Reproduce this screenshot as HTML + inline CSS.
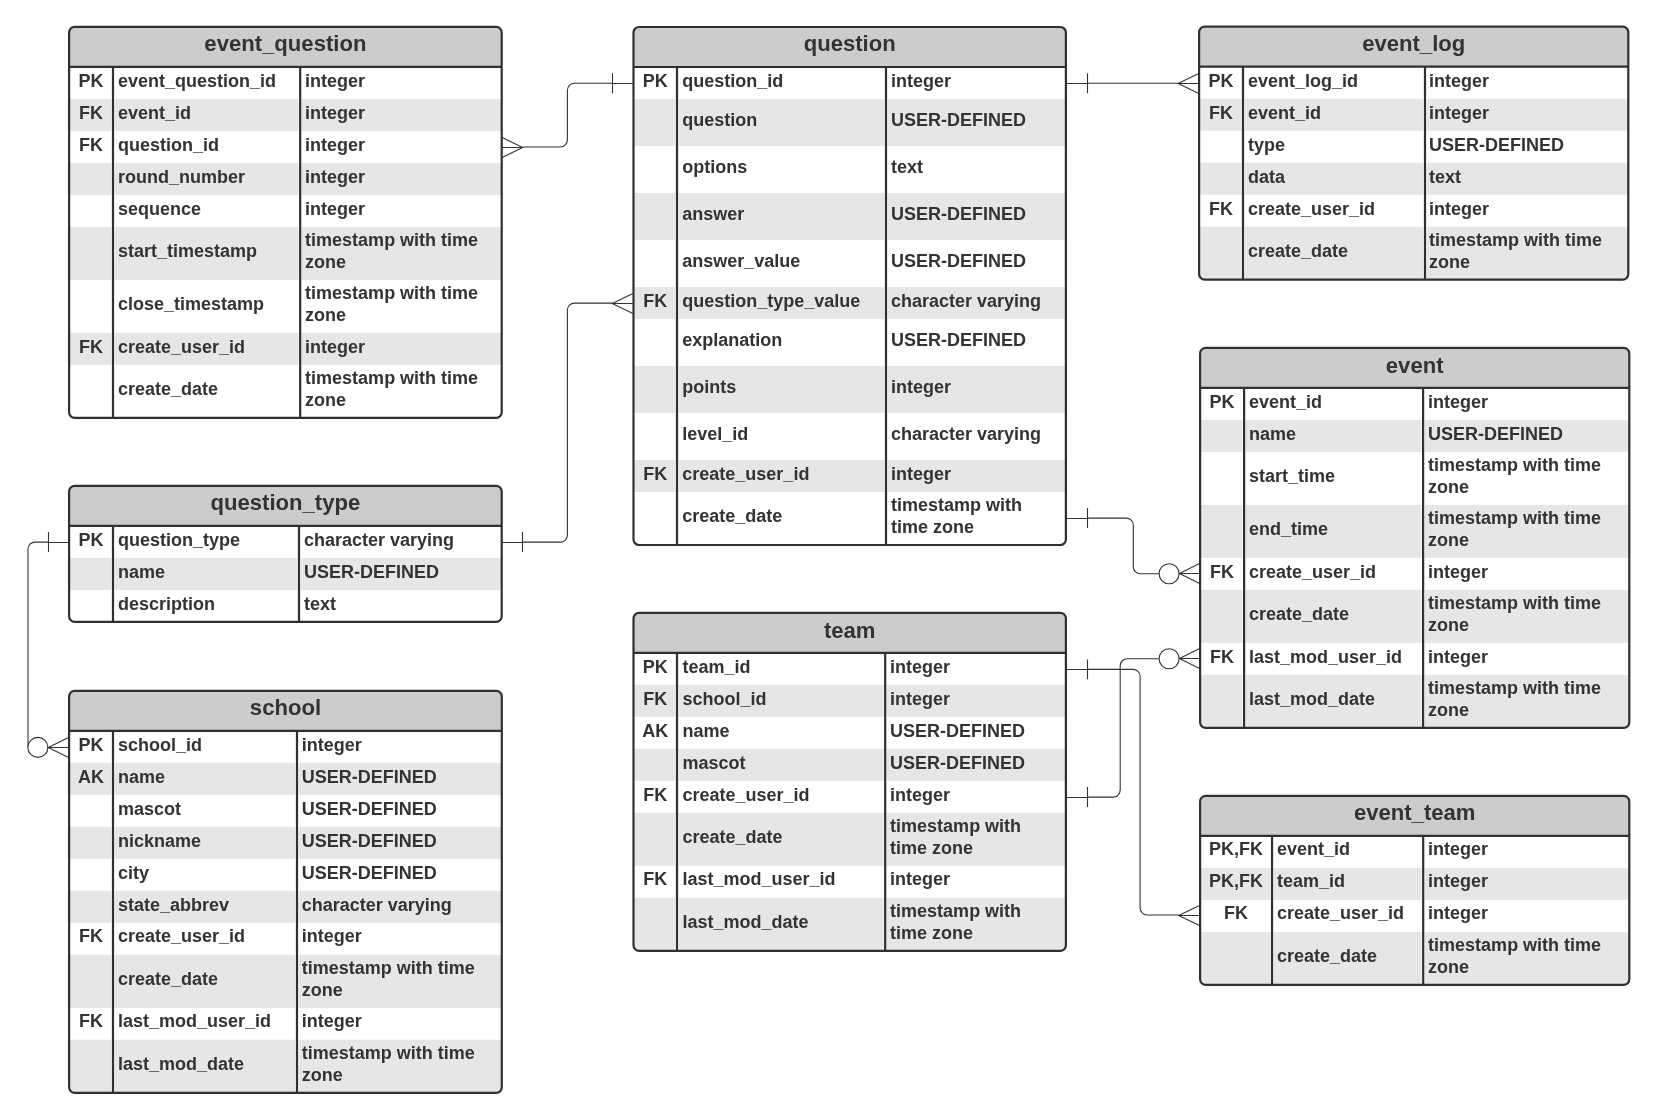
<!DOCTYPE html>
<html><head><meta charset="utf-8"><title>ERD</title>
<style>
html,body{margin:0;padding:0;background:#fff;}
body{width:1659px;height:1120px;overflow:hidden;font-family:"Liberation Sans",sans-serif;}
svg{display:block;will-change:transform;filter:grayscale(1)}
text{font-family:"Liberation Sans",sans-serif;font-weight:bold;white-space:pre}
text.t{font-size:22.1px}
</style></head><body>
<svg width="1659" height="1120" viewBox="0 0 1659 1120">
<rect width="1659" height="1120" fill="#fff"/>
<g fill="none" stroke="#333333" stroke-width="1.1">
<path d="M522.7 147L560.4 147A7 7 0 0 0 567.4 140L567.4 90.3A7 7 0 0 1 574.4 83.3L612.5 83.3"/>
<path d="M501.7 137.2L522.7 147.5L501.7 157.8M522.7 147.5H501.7"/>
<path d="M633.5 83.5H612.5M612.5 73.3V93.15"/>
<path d="M522.5 542.1L560.4 542.1A7 7 0 0 0 567.4 535.1L567.4 310.1A7 7 0 0 1 574.4 303.1L612.2 303.1"/>
<path d="M501.7 542.5H522.5M522.5 532.1V551.95"/>
<path d="M633.5 293.2L612.2 303.5L633.5 313.8M612.2 303.5H633.5"/>
<path d="M1087.5 83.3L1178.1 83.3"/>
<path d="M1065.9 83.5H1087.5M1087.5 73.3V93.15"/>
<path d="M1199.3 73.2L1178.1 83.5L1199.3 93.8M1178.1 83.5H1199.3"/>
<path d="M1087.5 518.1L1126.3 518.1A7 7 0 0 1 1133.3 525.1L1133.3 566.7A7 7 0 0 0 1140.3 573.7L1159.5 573.7"/>
<path d="M1065.9 518.5H1087.5M1087.5 508.1V527.95"/>
<circle cx="1169.1" cy="573.7" r="10" fill="#fff"/>
<path d="M1200.1 563.2L1179.4 573.5L1200.1 583.8M1179.4 573.5H1200.1"/>
<path d="M1087.5 797.1L1113.2 797.1A7 7 0 0 0 1120.2 790.1L1120.2 665.7A7 7 0 0 1 1127.2 658.7L1159.5 658.7"/>
<path d="M1065.9 797.5H1087.5M1087.5 787.1V806.95"/>
<circle cx="1169.1" cy="658.7" r="10" fill="#fff"/>
<path d="M1200.1 648.2L1179.4 658.5L1200.1 668.8M1179.4 658.5H1200.1"/>
<path d="M1087.5 669.4L1133.1 669.4A7 7 0 0 1 1140.1 676.4L1140.1 908A7 7 0 0 0 1147.1 915L1178.6 915"/>
<path d="M1065.9 669.5H1087.5M1087.5 659.4V679.25"/>
<path d="M1200.1 905.2L1178.6 915.5L1200.1 925.8M1178.6 915.5H1200.1"/>
<path d="M48.5 542.1L35 542.1A7 7 0 0 0 28 549.1L28 747.35"/>
<path d="M69.1 542.5H48.5M48.5 532.1V551.95"/>
<circle cx="37.9" cy="747.4" r="10" fill="#fff"/>
<path d="M69.1 737.2L48.2 747.5L69.1 757.8M48.2 747.5H69.1"/>
</g>
<g font-family="'Liberation Sans', sans-serif" font-weight="bold" font-size="18px" fill="#333333">
<path d="M74.7 26.85H496.1A5.6 5.6 0 0 1 501.7 32.45V412.25A5.6 5.6 0 0 1 496.1 417.85H74.7A5.6 5.6 0 0 1 69.1 412.25V32.45A5.6 5.6 0 0 1 74.7 26.85Z" fill="#fff"/>
<path d="M69.1 66.85V32.45A5.6 5.6 0 0 1 74.7 26.85H496.1A5.6 5.6 0 0 1 501.7 32.45V66.85Z" fill="#cccccc"/>
<rect x="69.1" y="98.85" width="432.6" height="32" fill="#e6e6e6"/>
<rect x="69.1" y="162.85" width="432.6" height="32" fill="#e6e6e6"/>
<rect x="69.1" y="226.85" width="432.6" height="53" fill="#e6e6e6"/>
<rect x="69.1" y="332.85" width="432.6" height="32" fill="#e6e6e6"/>
<path d="M113 66.85V417.85M300.2 66.85V417.85" stroke="#fff" stroke-width="3.1" fill="none"/>
<path d="M69.1 66.85H501.7M113 66.85V417.85M300.2 66.85V417.85" stroke="#303030" stroke-width="2.2" fill="none"/>
<path d="M74.7 26.85H496.1A5.6 5.6 0 0 1 501.7 32.45V412.25A5.6 5.6 0 0 1 496.1 417.85H74.7A5.6 5.6 0 0 1 69.1 412.25V32.45A5.6 5.6 0 0 1 74.7 26.85Z" fill="none" stroke="#303030" stroke-width="2.2"/>
<text class="t" x="285.4" y="50.85" text-anchor="middle">event_question</text>
<text x="91.05" y="86.8" text-anchor="middle">PK</text>
<text x="117.9" y="86.8">event_question_id</text>
<text x="305.1" y="86.8">integer</text>
<text x="91.05" y="118.8" text-anchor="middle">FK</text>
<text x="117.9" y="118.8">event_id</text>
<text x="305.1" y="118.8">integer</text>
<text x="91.05" y="150.8" text-anchor="middle">FK</text>
<text x="117.9" y="150.8">question_id</text>
<text x="305.1" y="150.8">integer</text>
<text x="117.9" y="182.8">round_number</text>
<text x="305.1" y="182.8">integer</text>
<text x="117.9" y="214.8">sequence</text>
<text x="305.1" y="214.8">integer</text>
<text x="117.9" y="257.1">start_timestamp</text>
<text x="305.1" y="246.3">timestamp with time</text>
<text x="305.1" y="268">zone</text>
<text x="117.9" y="310.1">close_timestamp</text>
<text x="305.1" y="299.3">timestamp with time</text>
<text x="305.1" y="321">zone</text>
<text x="91.05" y="352.8" text-anchor="middle">FK</text>
<text x="117.9" y="352.8">create_user_id</text>
<text x="305.1" y="352.8">integer</text>
<text x="117.9" y="395.1">create_date</text>
<text x="305.1" y="384.3">timestamp with time</text>
<text x="305.1" y="406">zone</text>
<path d="M639.1 27H1060.3A5.6 5.6 0 0 1 1065.9 32.6V539.4A5.6 5.6 0 0 1 1060.3 545H639.1A5.6 5.6 0 0 1 633.5 539.4V32.6A5.6 5.6 0 0 1 639.1 27Z" fill="#fff"/>
<path d="M633.5 67V32.6A5.6 5.6 0 0 1 639.1 27H1060.3A5.6 5.6 0 0 1 1065.9 32.6V67Z" fill="#cccccc"/>
<rect x="633.5" y="99" width="432.4" height="47" fill="#e6e6e6"/>
<rect x="633.5" y="193" width="432.4" height="47" fill="#e6e6e6"/>
<rect x="633.5" y="287" width="432.4" height="32" fill="#e6e6e6"/>
<rect x="633.5" y="366" width="432.4" height="47" fill="#e6e6e6"/>
<rect x="633.5" y="460" width="432.4" height="32" fill="#e6e6e6"/>
<path d="M677 67V545M886 67V545" stroke="#fff" stroke-width="3.1" fill="none"/>
<path d="M633.5 67H1065.9M677 67V545M886 67V545" stroke="#303030" stroke-width="2.2" fill="none"/>
<path d="M639.1 27H1060.3A5.6 5.6 0 0 1 1065.9 32.6V539.4A5.6 5.6 0 0 1 1060.3 545H639.1A5.6 5.6 0 0 1 633.5 539.4V32.6A5.6 5.6 0 0 1 639.1 27Z" fill="none" stroke="#303030" stroke-width="2.2"/>
<text class="t" x="849.7" y="51" text-anchor="middle">question</text>
<text x="655.25" y="86.95" text-anchor="middle">PK</text>
<text x="682.3" y="86.95">question_id</text>
<text x="890.9" y="86.95">integer</text>
<text x="682.3" y="126.05">question</text>
<text x="890.9" y="126.05">USER-DEFINED</text>
<text x="682.3" y="173.05">options</text>
<text x="890.9" y="173.05">text</text>
<text x="682.3" y="220.05">answer</text>
<text x="890.9" y="220.05">USER-DEFINED</text>
<text x="682.3" y="267.05">answer_value</text>
<text x="890.9" y="267.05">USER-DEFINED</text>
<text x="655.25" y="306.95" text-anchor="middle">FK</text>
<text x="682.3" y="306.95">question_type_value</text>
<text x="890.9" y="306.95">character varying</text>
<text x="682.3" y="346.05">explanation</text>
<text x="890.9" y="346.05">USER-DEFINED</text>
<text x="682.3" y="393.05">points</text>
<text x="890.9" y="393.05">integer</text>
<text x="682.3" y="440.05">level_id</text>
<text x="890.9" y="440.05">character varying</text>
<text x="655.25" y="479.95" text-anchor="middle">FK</text>
<text x="682.3" y="479.95">create_user_id</text>
<text x="890.9" y="479.95">integer</text>
<text x="682.3" y="522.25">create_date</text>
<text x="890.9" y="511.45">timestamp with</text>
<text x="890.9" y="533.15">time zone</text>
<path d="M1204.7 26.7H1622.7A5.6 5.6 0 0 1 1628.3 32.3V274.1A5.6 5.6 0 0 1 1622.7 279.7H1204.7A5.6 5.6 0 0 1 1199.1 274.1V32.3A5.6 5.6 0 0 1 1204.7 26.7Z" fill="#fff"/>
<path d="M1199.1 66.7V32.3A5.6 5.6 0 0 1 1204.7 26.7H1622.7A5.6 5.6 0 0 1 1628.3 32.3V66.7Z" fill="#cccccc"/>
<rect x="1199.1" y="98.7" width="429.2" height="32" fill="#e6e6e6"/>
<rect x="1199.1" y="162.7" width="429.2" height="32" fill="#e6e6e6"/>
<path d="M1199.1 226.7H1628.3V274.1A5.6 5.6 0 0 1 1622.7 279.7H1204.7A5.6 5.6 0 0 1 1199.1 274.1Z" fill="#e6e6e6"/>
<path d="M1243 66.7V279.7M1425 66.7V279.7" stroke="#fff" stroke-width="3.1" fill="none"/>
<path d="M1199.1 66.7H1628.3M1243 66.7V279.7M1425 66.7V279.7" stroke="#303030" stroke-width="2.2" fill="none"/>
<path d="M1204.7 26.7H1622.7A5.6 5.6 0 0 1 1628.3 32.3V274.1A5.6 5.6 0 0 1 1622.7 279.7H1204.7A5.6 5.6 0 0 1 1199.1 274.1V32.3A5.6 5.6 0 0 1 1204.7 26.7Z" fill="none" stroke="#303030" stroke-width="2.2"/>
<text class="t" x="1413.7" y="50.7" text-anchor="middle">event_log</text>
<text x="1221.05" y="86.65" text-anchor="middle">PK</text>
<text x="1247.9" y="86.65">event_log_id</text>
<text x="1429" y="86.65">integer</text>
<text x="1221.05" y="118.65" text-anchor="middle">FK</text>
<text x="1247.9" y="118.65">event_id</text>
<text x="1429" y="118.65">integer</text>
<text x="1247.9" y="150.65">type</text>
<text x="1429" y="150.65">USER-DEFINED</text>
<text x="1247.9" y="182.65">data</text>
<text x="1429" y="182.65">text</text>
<text x="1221.05" y="214.65" text-anchor="middle">FK</text>
<text x="1247.9" y="214.65">create_user_id</text>
<text x="1429" y="214.65">integer</text>
<text x="1247.9" y="256.95">create_date</text>
<text x="1429" y="246.15">timestamp with time</text>
<text x="1429" y="267.85">zone</text>
<path d="M1205.7 347.85H1623.7A5.6 5.6 0 0 1 1629.3 353.45V722.25A5.6 5.6 0 0 1 1623.7 727.85H1205.7A5.6 5.6 0 0 1 1200.1 722.25V353.45A5.6 5.6 0 0 1 1205.7 347.85Z" fill="#fff"/>
<path d="M1200.1 387.85V353.45A5.6 5.6 0 0 1 1205.7 347.85H1623.7A5.6 5.6 0 0 1 1629.3 353.45V387.85Z" fill="#cccccc"/>
<rect x="1200.1" y="419.85" width="429.2" height="32" fill="#e6e6e6"/>
<rect x="1200.1" y="504.85" width="429.2" height="53" fill="#e6e6e6"/>
<rect x="1200.1" y="589.85" width="429.2" height="53" fill="#e6e6e6"/>
<path d="M1200.1 674.85H1629.3V722.25A5.6 5.6 0 0 1 1623.7 727.85H1205.7A5.6 5.6 0 0 1 1200.1 722.25Z" fill="#e6e6e6"/>
<path d="M1244.1 387.85V727.85M1423.1 387.85V727.85" stroke="#fff" stroke-width="3.1" fill="none"/>
<path d="M1200.1 387.85H1629.3M1244.1 387.85V727.85M1423.1 387.85V727.85" stroke="#303030" stroke-width="2.2" fill="none"/>
<path d="M1205.7 347.85H1623.7A5.6 5.6 0 0 1 1629.3 353.45V722.25A5.6 5.6 0 0 1 1623.7 727.85H1205.7A5.6 5.6 0 0 1 1200.1 722.25V353.45A5.6 5.6 0 0 1 1205.7 347.85Z" fill="none" stroke="#303030" stroke-width="2.2"/>
<text class="t" x="1414.7" y="372.65" text-anchor="middle">event</text>
<text x="1222.1" y="407.8" text-anchor="middle">PK</text>
<text x="1249" y="407.8">event_id</text>
<text x="1428" y="407.8">integer</text>
<text x="1249" y="439.8">name</text>
<text x="1428" y="439.8">USER-DEFINED</text>
<text x="1249" y="482.1">start_time</text>
<text x="1428" y="471.3">timestamp with time</text>
<text x="1428" y="493">zone</text>
<text x="1249" y="535.1">end_time</text>
<text x="1428" y="524.3">timestamp with time</text>
<text x="1428" y="546">zone</text>
<text x="1222.1" y="577.8" text-anchor="middle">FK</text>
<text x="1249" y="577.8">create_user_id</text>
<text x="1428" y="577.8">integer</text>
<text x="1249" y="620.1">create_date</text>
<text x="1428" y="609.3">timestamp with time</text>
<text x="1428" y="631">zone</text>
<text x="1222.1" y="662.8" text-anchor="middle">FK</text>
<text x="1249" y="662.8">last_mod_user_id</text>
<text x="1428" y="662.8">integer</text>
<text x="1249" y="705.1">last_mod_date</text>
<text x="1428" y="694.3">timestamp with time</text>
<text x="1428" y="716">zone</text>
<path d="M74.7 485.93H496.1A5.6 5.6 0 0 1 501.7 491.53V616.33A5.6 5.6 0 0 1 496.1 621.93H74.7A5.6 5.6 0 0 1 69.1 616.33V491.53A5.6 5.6 0 0 1 74.7 485.93Z" fill="#fff"/>
<path d="M69.1 525.93V491.53A5.6 5.6 0 0 1 74.7 485.93H496.1A5.6 5.6 0 0 1 501.7 491.53V525.93Z" fill="#cccccc"/>
<rect x="69.1" y="557.93" width="432.6" height="32" fill="#e6e6e6"/>
<path d="M113 525.93V621.93M299 525.93V621.93" stroke="#fff" stroke-width="3.1" fill="none"/>
<path d="M69.1 525.93H501.7M113 525.93V621.93M299 525.93V621.93" stroke="#303030" stroke-width="2.2" fill="none"/>
<path d="M74.7 485.93H496.1A5.6 5.6 0 0 1 501.7 491.53V616.33A5.6 5.6 0 0 1 496.1 621.93H74.7A5.6 5.6 0 0 1 69.1 616.33V491.53A5.6 5.6 0 0 1 74.7 485.93Z" fill="none" stroke="#303030" stroke-width="2.2"/>
<text class="t" x="285.4" y="509.93" text-anchor="middle">question_type</text>
<text x="91.05" y="545.88" text-anchor="middle">PK</text>
<text x="117.9" y="545.88">question_type</text>
<text x="303.9" y="545.88">character varying</text>
<text x="117.9" y="577.88">name</text>
<text x="303.9" y="577.88">USER-DEFINED</text>
<text x="117.9" y="609.88">description</text>
<text x="303.9" y="609.88">text</text>
<path d="M74.7 690.83H496.2A5.6 5.6 0 0 1 501.8 696.43V1087.23A5.6 5.6 0 0 1 496.2 1092.83H74.7A5.6 5.6 0 0 1 69.1 1087.23V696.43A5.6 5.6 0 0 1 74.7 690.83Z" fill="#fff"/>
<path d="M69.1 730.83V696.43A5.6 5.6 0 0 1 74.7 690.83H496.2A5.6 5.6 0 0 1 501.8 696.43V730.83Z" fill="#cccccc"/>
<rect x="69.1" y="762.83" width="432.7" height="32" fill="#e6e6e6"/>
<rect x="69.1" y="826.83" width="432.7" height="32" fill="#e6e6e6"/>
<rect x="69.1" y="890.83" width="432.7" height="32" fill="#e6e6e6"/>
<rect x="69.1" y="954.83" width="432.7" height="53" fill="#e6e6e6"/>
<path d="M69.1 1039.83H501.8V1087.23A5.6 5.6 0 0 1 496.2 1092.83H74.7A5.6 5.6 0 0 1 69.1 1087.23Z" fill="#e6e6e6"/>
<path d="M113 730.83V1092.83M297 730.83V1092.83" stroke="#fff" stroke-width="3.1" fill="none"/>
<path d="M69.1 730.83H501.8M113 730.83V1092.83M297 730.83V1092.83" stroke="#303030" stroke-width="2.2" fill="none"/>
<path d="M74.7 690.83H496.2A5.6 5.6 0 0 1 501.8 696.43V1087.23A5.6 5.6 0 0 1 496.2 1092.83H74.7A5.6 5.6 0 0 1 69.1 1087.23V696.43A5.6 5.6 0 0 1 74.7 690.83Z" fill="none" stroke="#303030" stroke-width="2.2"/>
<text class="t" x="285.45" y="714.83" text-anchor="middle">school</text>
<text x="91.05" y="750.78" text-anchor="middle">PK</text>
<text x="117.9" y="750.78">school_id</text>
<text x="301.7" y="750.78">integer</text>
<text x="91.05" y="782.78" text-anchor="middle">AK</text>
<text x="117.9" y="782.78">name</text>
<text x="301.7" y="782.78">USER-DEFINED</text>
<text x="117.9" y="814.78">mascot</text>
<text x="301.7" y="814.78">USER-DEFINED</text>
<text x="117.9" y="846.78">nickname</text>
<text x="301.7" y="846.78">USER-DEFINED</text>
<text x="117.9" y="878.78">city</text>
<text x="301.7" y="878.78">USER-DEFINED</text>
<text x="117.9" y="910.78">state_abbrev</text>
<text x="301.7" y="910.78">character varying</text>
<text x="91.05" y="941.88" text-anchor="middle">FK</text>
<text x="117.9" y="941.88">create_user_id</text>
<text x="301.7" y="941.88">integer</text>
<text x="117.9" y="985.08">create_date</text>
<text x="301.7" y="974.28">timestamp with time</text>
<text x="301.7" y="995.98">zone</text>
<text x="91.05" y="1026.88" text-anchor="middle">FK</text>
<text x="117.9" y="1026.88">last_mod_user_id</text>
<text x="301.7" y="1026.88">integer</text>
<text x="117.9" y="1070.08">last_mod_date</text>
<text x="301.7" y="1059.28">timestamp with time</text>
<text x="301.7" y="1080.98">zone</text>
<path d="M639.1 612.84H1060.3A5.6 5.6 0 0 1 1065.9 618.44V945.24A5.6 5.6 0 0 1 1060.3 950.84H639.1A5.6 5.6 0 0 1 633.5 945.24V618.44A5.6 5.6 0 0 1 639.1 612.84Z" fill="#fff"/>
<path d="M633.5 652.84V618.44A5.6 5.6 0 0 1 639.1 612.84H1060.3A5.6 5.6 0 0 1 1065.9 618.44V652.84Z" fill="#cccccc"/>
<rect x="633.5" y="684.84" width="432.4" height="32" fill="#e6e6e6"/>
<rect x="633.5" y="748.84" width="432.4" height="32" fill="#e6e6e6"/>
<rect x="633.5" y="812.84" width="432.4" height="53" fill="#e6e6e6"/>
<path d="M633.5 897.84H1065.9V945.24A5.6 5.6 0 0 1 1060.3 950.84H639.1A5.6 5.6 0 0 1 633.5 945.24Z" fill="#e6e6e6"/>
<path d="M677 652.84V950.84M885.2 652.84V950.84" stroke="#fff" stroke-width="3.1" fill="none"/>
<path d="M633.5 652.84H1065.9M677 652.84V950.84M885.2 652.84V950.84" stroke="#303030" stroke-width="2.2" fill="none"/>
<path d="M639.1 612.84H1060.3A5.6 5.6 0 0 1 1065.9 618.44V945.24A5.6 5.6 0 0 1 1060.3 950.84H639.1A5.6 5.6 0 0 1 633.5 945.24V618.44A5.6 5.6 0 0 1 639.1 612.84Z" fill="none" stroke="#303030" stroke-width="2.2"/>
<text class="t" x="849.7" y="637.54" text-anchor="middle">team</text>
<text x="655.25" y="672.79" text-anchor="middle">PK</text>
<text x="682.5" y="672.79">team_id</text>
<text x="890.1" y="672.79">integer</text>
<text x="655.25" y="704.79" text-anchor="middle">FK</text>
<text x="682.5" y="704.79">school_id</text>
<text x="890.1" y="704.79">integer</text>
<text x="655.25" y="736.79" text-anchor="middle">AK</text>
<text x="682.5" y="736.79">name</text>
<text x="890.1" y="736.79">USER-DEFINED</text>
<text x="682.5" y="768.79">mascot</text>
<text x="890.1" y="768.79">USER-DEFINED</text>
<text x="655.25" y="800.79" text-anchor="middle">FK</text>
<text x="682.5" y="800.79">create_user_id</text>
<text x="890.1" y="800.79">integer</text>
<text x="682.5" y="843.09">create_date</text>
<text x="890.1" y="832.29">timestamp with</text>
<text x="890.1" y="853.99">time zone</text>
<text x="655.25" y="885.19" text-anchor="middle">FK</text>
<text x="682.5" y="885.19">last_mod_user_id</text>
<text x="890.1" y="885.19">integer</text>
<text x="682.5" y="928.09">last_mod_date</text>
<text x="890.1" y="917.29">timestamp with</text>
<text x="890.1" y="938.99">time zone</text>
<path d="M1205.7 795.88H1623.7A5.6 5.6 0 0 1 1629.3 801.48V979.28A5.6 5.6 0 0 1 1623.7 984.88H1205.7A5.6 5.6 0 0 1 1200.1 979.28V801.48A5.6 5.6 0 0 1 1205.7 795.88Z" fill="#fff"/>
<path d="M1200.1 835.88V801.48A5.6 5.6 0 0 1 1205.7 795.88H1623.7A5.6 5.6 0 0 1 1629.3 801.48V835.88Z" fill="#cccccc"/>
<rect x="1200.1" y="867.88" width="429.2" height="32" fill="#e6e6e6"/>
<path d="M1200.1 931.88H1629.3V979.28A5.6 5.6 0 0 1 1623.7 984.88H1205.7A5.6 5.6 0 0 1 1200.1 979.28Z" fill="#e6e6e6"/>
<path d="M1272.05 835.88V984.88M1423.2 835.88V984.88" stroke="#fff" stroke-width="3.1" fill="none"/>
<path d="M1200.1 835.88H1629.3M1272.05 835.88V984.88M1423.2 835.88V984.88" stroke="#303030" stroke-width="2.2" fill="none"/>
<path d="M1205.7 795.88H1623.7A5.6 5.6 0 0 1 1629.3 801.48V979.28A5.6 5.6 0 0 1 1623.7 984.88H1205.7A5.6 5.6 0 0 1 1200.1 979.28V801.48A5.6 5.6 0 0 1 1205.7 795.88Z" fill="none" stroke="#303030" stroke-width="2.2"/>
<text class="t" x="1414.7" y="819.88" text-anchor="middle">event_team</text>
<text x="1236.07" y="855.03" text-anchor="middle">PK,FK</text>
<text x="1276.95" y="855.03">event_id</text>
<text x="1428.1" y="855.03">integer</text>
<text x="1236.07" y="887.03" text-anchor="middle">PK,FK</text>
<text x="1276.95" y="887.03">team_id</text>
<text x="1428.1" y="887.03">integer</text>
<text x="1236.07" y="919.03" text-anchor="middle">FK</text>
<text x="1276.95" y="919.03">create_user_id</text>
<text x="1428.1" y="919.03">integer</text>
<text x="1276.95" y="962.13">create_date</text>
<text x="1428.1" y="951.33">timestamp with time</text>
<text x="1428.1" y="973.03">zone</text>
</g></svg>
</body></html>
